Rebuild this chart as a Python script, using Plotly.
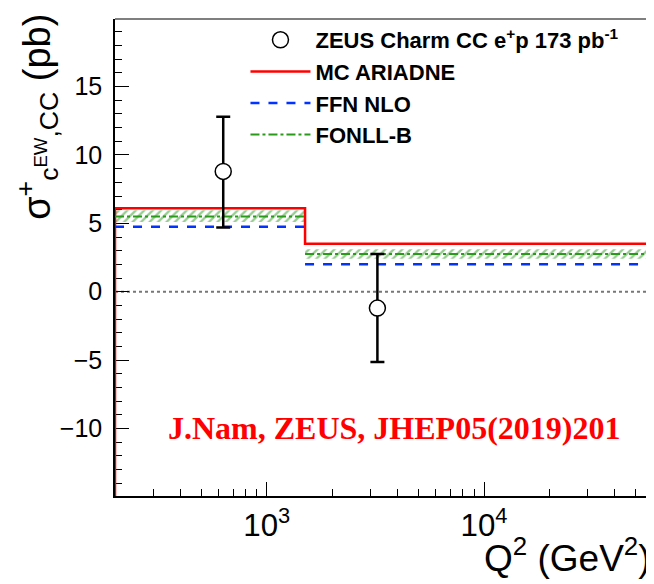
import plotly.graph_objects as go
import numpy as np

# ---- data ----
bin_edges = [200, 1500, 60000]
data_x = [630, 3230]
data_y = [8.8, -1.2]
data_err_up = [4.0, 3.95]
data_err_dn = [4.1, 3.95]
mc_ariadne = [6.1, 3.5]
ffn_nlo = [4.75, 2.0]
fonll_b = [5.5, 2.75]
fonll_b_lo = [5.1, 2.4]
fonll_b_hi = [5.95, 3.1]
y_range = [-14.95, 19.95]

fig = go.Figure()

# FONLL-B hatched band
for i in range(len(fonll_b)):
    x0, x1 = bin_edges[i], bin_edges[i + 1]
    fig.add_trace(go.Scatter(
        x=[x0, x1, x1, x0, x0],
        y=[fonll_b_lo[i], fonll_b_lo[i], fonll_b_hi[i], fonll_b_hi[i], fonll_b_lo[i]],
        mode="lines", line=dict(width=0), fill="toself",
        fillcolor="rgba(0,0,0,0)",
        fillpattern=dict(shape="/", fgcolor="#2f9a22", bgcolor="rgba(255,255,255,0)", size=6, solidity=0.4),
        showlegend=False, hoverinfo="skip"))

def seg(vals):
    xs, ys = [], []
    for i, v in enumerate(vals):
        xs += [bin_edges[i], bin_edges[i + 1], None]
        ys += [v, v, None]
    return xs, ys

# MC ARIADNE step
rx = [bin_edges[0]]
ry = [y_range[0]]
for i, v in enumerate(mc_ariadne):
    rx += [bin_edges[i], bin_edges[i + 1]]
    ry += [v, v]
fig.add_trace(go.Scatter(x=rx, y=ry, mode="lines", line=dict(color="#ff0000", width=2.5),
                         showlegend=False))

fx, fy = seg(ffn_nlo)
fig.add_trace(go.Scatter(x=fx, y=fy, mode="lines", line=dict(color="#0033ff", width=2.5, dash="dash"),
                         showlegend=False))
gx, gy = seg(fonll_b)
fig.add_trace(go.Scatter(x=gx, y=gy, mode="lines", line=dict(color="#2a9a1a", width=2, dash="dashdot"),
                         showlegend=False))

# data
fig.add_trace(go.Scatter(
    x=data_x, y=data_y, mode="markers",
    marker=dict(symbol="circle", size=16, color="white", line=dict(color="black", width=1.5)),
    error_y=dict(type="data", array=data_err_up, arrayminus=data_err_dn, color="black", thickness=2.5, width=7),
    name="<b>ZEUS Charm CC e<sup>+</sup>p 173 pb<sup>-1</sup></b>"))

# legend entries
fig.add_trace(go.Scatter(x=[None], y=[None], mode="lines", line=dict(color="#ff0000", width=2.5),
                         name="<b>MC ARIADNE</b>"))
fig.add_trace(go.Scatter(x=[None], y=[None], mode="lines", line=dict(color="#0033ff", width=2.5, dash="dash"),
                         name="<b>FFN NLO</b>"))
fig.add_trace(go.Scatter(x=[None], y=[None], mode="lines", line=dict(color="#2a9a1a", width=2, dash="dashdot"),
                         name="<b>FONLL-B</b>"))

fig.update_layout(
    width=654, height=584,
    margin=dict(l=107, r=9, t=11, b=96),
    paper_bgcolor="white", plot_bgcolor="white",
    font=dict(family="Liberation Sans, Arial, sans-serif", color="black"),
    showlegend=True,
    legend=dict(x=0.2425, y=1.0, xanchor="left", yanchor="top", bgcolor="rgba(0,0,0,0)",
                font=dict(size=22, family="Liberation Sans, Arial, sans-serif"), tracegroupgap=0,
                itemwidth=60),
    xaxis=dict(type="log", range=[np.log10(bin_edges[0]), np.log10(bin_edges[-1])],
               dtick=1, exponentformat="power", showgrid=False, zeroline=False,
               ticks="inside", ticklen=14, tickwidth=1.2, tickcolor="black",
               showline=True, linecolor="black", linewidth=1.5, layer="below traces",
               tickfont=dict(size=25), ticklabelstandoff=2,
               minor=dict(ticks="inside", ticklen=7, dtick="D1", tickcolor="black", tickwidth=1.2, showgrid=False)),
    yaxis=dict(range=y_range, dtick=5, tick0=0, showgrid=False, zeroline=False,
               ticks="inside", ticklen=14, tickwidth=1.2, tickcolor="black",
               showline=True, linecolor="black", linewidth=1.5, layer="below traces",
               tickfont=dict(size=25), ticklabelstandoff=6,
               minor=dict(ticks="inside", ticklen=7, dtick=1, tickcolor="black", tickwidth=1.2, showgrid=False)),
    shapes=[
        dict(type="line", xref="paper", yref="y", x0=0, x1=1, y0=0, y1=0,
             line=dict(color="#777777", width=2, dash="dot"), layer="below"),
        dict(type="line", xref="paper", yref="paper", x0=0, x1=1, y0=1, y1=1,
             line=dict(color="black", width=1.2)),
        dict(type="line", xref="paper", yref="paper", x0=1, x1=1, y0=0, y1=1,
             line=dict(color="#888888", width=1.5)),
    ],
    annotations=[
        dict(text="J.Nam, ZEUS, JHEP05(2019)201", xref="paper", yref="y", x=0.095, y=-10,
             xanchor="left", yanchor="middle", showarrow=False,
             font=dict(family="Liberation Serif, Times New Roman, serif", size=32, color="#ff0000", weight="bold")),
        dict(text="Q<sup>2</sup> (GeV<sup>2</sup>)", xref="paper", yref="paper", x=1.0, y=-0.125,
             xanchor="right", yanchor="middle", showarrow=False, font=dict(size=37)),
        dict(text="σ<sup>+</sup><sub>c<sup>EW</sup>,CC</sub> (pb)", xref="paper", yref="paper",
             x=-0.145, y=1.015, xanchor="center", yanchor="top", textangle=-90, showarrow=False,
             font=dict(size=38)),
    ],
)

fig.write_html("out.html")
